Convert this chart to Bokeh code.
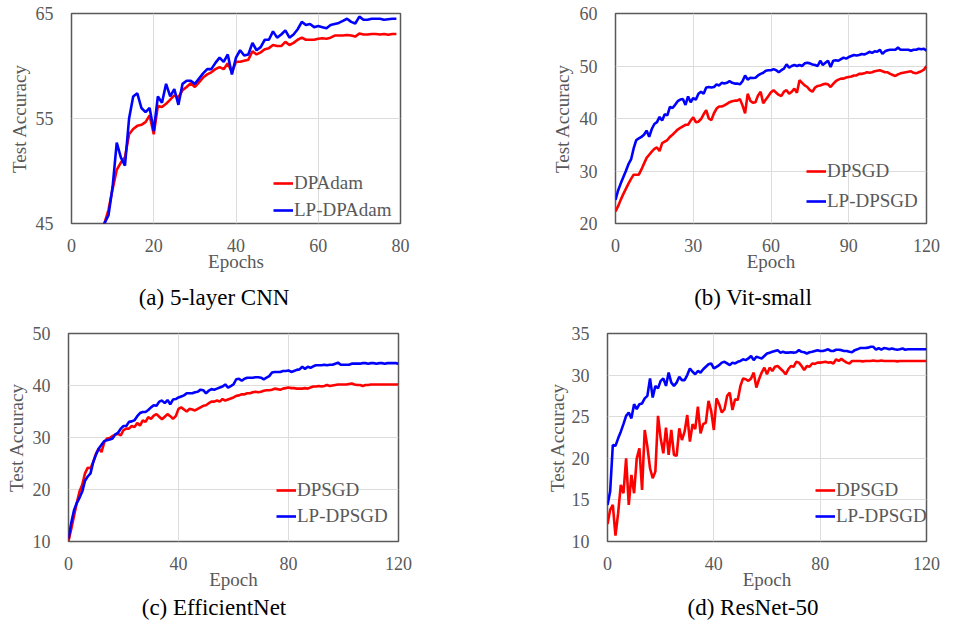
from bokeh.plotting import figure
from bokeh.models import Range1d, FixedTicker, Legend, Div
from bokeh.layouts import column, row
from bokeh.embed import file_html
from bokeh.resources import INLINE

# ---------------- data ----------------
# (a) 5-layer CNN, epochs 0..79
cnn_epochs = list(range(80))
cnn_dpadam = [30, 33, 36, 38, 40, 41.5, 42.8, 43.9, 45.0, 46.3,
              48.3, 50.1, 50.8, 51.3, 53.5, 54.0, 54.3, 54.4, 54.65, 55.3,
              53.5, 56.2, 56.1, 56.4, 56.8, 57.2, 57.0, 57.7, 58.0, 58.35,
              58.0, 58.45, 58.9, 59.2, 59.4, 59.7, 59.9, 59.7, 60.25, 59.4,
              60.4, 60.4, 60.5, 60.6, 61.4, 61.1, 61.3, 61.6, 61.7, 62.0,
              61.9, 61.9, 62.3, 62.0, 62.2, 62.5, 62.7, 62.5, 62.5, 62.5,
              62.6, 62.65, 62.6, 62.7, 62.9, 62.9, 62.9, 62.95, 62.9, 62.8,
              63.1, 63.0, 63.0, 63.05, 63.05, 63.0, 63.05, 62.98, 63.05, 63.05]
cnn_lp_dpadam = [30, 33, 36, 38, 40, 41.5, 42.8, 43.9, 45.0, 45.8,
                 48.5, 52.7, 51.3, 50.5, 55.0, 57.1, 57.4, 56.0, 55.6, 56.0,
                 53.8, 57.1, 56.5, 58.3, 57.1, 57.8, 56.3, 58.3, 58.6, 58.6,
                 58.3, 58.8, 59.3, 59.7, 59.7, 60.3, 60.8, 60.4, 61.1, 59.2,
                 60.8, 61.5, 61.0, 61.1, 62.2, 61.5, 61.8, 62.5, 62.5, 63.3,
                 62.7, 63.0, 63.4, 62.7, 63.0, 63.5, 64.2, 63.9, 64.0, 63.7,
                 63.8, 63.7, 63.6, 63.9, 64.0, 64.1, 64.3, 64.5, 64.2, 64.05,
                 64.7, 64.4, 64.4, 64.5, 64.5, 64.5, 64.4, 64.45, 64.5, 64.5]

# (b) Vit-small, epochs 0..120
vit_epochs = list(range(121))
vit_dpsgd = [22.3, 23.3, 24.5, 25.6, 26.6, 27.6, 28.5, 29.3, 29.3, 29.3,
             30.3, 31.4, 32.5, 33.1, 33.7, 34.2, 34.5, 33.8, 35.3, 35.6,
             35.9, 36.5, 36.9, 37.4, 37.9, 38.2, 38.5, 38.8, 38.8, 39.6,
             40.2, 39.3, 39.4, 39.9, 40.8, 41.6, 40.0, 39.7, 41.0, 41.9,
             42.3, 42.3, 42.5, 42.8, 43.1, 43.3, 43.4, 43.4, 43.7, 42.5,
             41.0, 44.7, 43.4, 43.0, 43.1, 44.4, 45.1, 42.9, 43.6, 44.3,
             45.0, 45.4, 44.9, 44.5, 44.3, 45.1, 45.4, 44.7, 45.1, 45.7,
             44.9, 47.3, 46.8, 46.3, 46.0, 45.4, 45.1, 45.9, 46.2, 46.3,
             46.5, 46.6, 46.5, 46.0, 46.6, 47.1, 47.4, 47.6, 47.6, 47.8,
             47.9, 48.0, 48.2, 48.2, 48.5, 48.5, 48.6, 48.8, 48.7, 48.8,
             49.0, 49.1, 49.2, 49.0, 48.8, 48.8, 48.5, 48.3, 48.1, 48.4,
             48.6, 48.7, 48.8, 48.9, 49.0, 48.7, 48.6, 48.8, 49.0, 49.3,
             50.0]
vit_lp_dpsgd = [24.5, 26.3, 27.6, 28.8, 30.0, 31.3, 32.2, 34.3, 35.9, 36.2,
                36.5, 36.9, 37.7, 36.5, 38.0, 38.95, 39.3, 40.3, 39.6, 40.8,
                40.6, 42.2, 42.0, 42.6, 43.3, 43.6, 43.7, 42.6, 44.2, 43.1,
                43.9, 43.6, 44.7, 45.1, 44.7, 45.9, 46.0, 45.9, 46.0, 46.5,
                46.3, 46.8, 46.65, 46.8, 47.1, 46.8, 46.65, 46.65, 46.5, 47.1,
                48.2, 47.4, 47.75, 47.7, 47.75, 48.2, 48.5, 48.7, 49.1, 49.2,
                49.2, 49.4, 49.2, 48.8, 49.2, 49.5, 50.3, 49.7, 50.0, 50.2,
                50.0, 50.2, 50.0, 50.5, 50.6, 50.5, 50.3, 50.2, 50.0, 51.0,
                50.2, 50.6, 51.0, 49.8, 51.0, 51.1, 51.0, 51.3, 51.6, 51.4,
                51.7, 51.9, 52.1, 52.0, 52.1, 52.3, 52.2, 52.4, 52.7, 52.5,
                52.8, 52.7, 53.1, 52.3, 52.8, 53.0, 53.1, 53.1, 53.1, 53.5,
                53.1, 53.1, 53.1, 53.1, 52.9, 53.1, 53.1, 53.3, 53.2, 53.3,
                52.9]

# (c) EfficientNet, epochs 0..120
eff_epochs = list(range(121))
eff_dpsgd = [10.1, 12.4, 14.9, 17.4, 19.6, 20.9, 23.1, 24.2, 24.1, 25.3,
             26.9, 27.9, 27.2, 29.1, 29.8, 29.9, 30.3, 30.5, 30.7, 30.4,
             31.4, 31.7, 31.7, 32.2, 32.0, 32.8, 32.3, 33.3, 33.0, 33.9,
             33.6, 34.2, 34.5, 34.0, 33.5, 34.0, 34.5, 34.1, 33.6, 34.1,
             35.5, 35.8, 35.4, 35.0, 35.5, 35.4, 35.2, 35.5, 35.8, 36.1,
             36.2, 36.6, 36.9, 36.9, 37.1, 36.9, 37.4, 37.1, 37.3, 37.5,
             37.7, 38.0, 38.1, 38.3, 38.3, 38.5, 38.5, 38.7, 38.8, 38.7,
             38.8, 39.0, 39.1, 39.1, 39.2, 39.4, 39.3, 39.2, 39.4, 39.5,
             39.6, 39.5, 39.5, 39.4, 39.4, 39.4, 39.5, 39.4, 39.6, 39.8,
             39.8, 39.9, 39.8, 39.9, 40.1, 39.9, 40.0, 40.1, 40.2, 40.2,
             40.2, 40.2, 40.3, 40.4, 40.2, 40.1, 40.1, 39.9, 40.1, 40.1,
             40.2, 40.2, 40.2, 40.2, 40.2, 40.2, 40.2, 40.2, 40.2, 40.2,
             40.2]
eff_lp_dpsgd = [10.5, 13.6, 16.0, 17.4, 18.4, 19.6, 21.7, 22.5, 23.1, 25.3,
                26.7, 27.9, 28.6, 29.3, 29.5, 29.6, 29.8, 30.6, 30.9, 31.7,
                32.2, 32.2, 33.0, 33.1, 33.3, 34.1, 34.7, 34.9, 34.9, 35.3,
                35.8, 36.2, 36.1, 36.9, 37.1, 36.6, 37.2, 36.4, 37.3, 37.4,
                37.7, 37.9, 38.1, 38.5, 38.5, 38.5, 38.7, 38.8, 39.2, 39.1,
                38.5, 39.0, 39.3, 39.2, 39.4, 39.6, 39.8, 40.2, 39.6, 39.9,
                40.2, 41.2, 41.3, 40.9, 41.3, 41.5, 41.5, 41.5, 41.6, 41.6,
                41.5, 41.2, 41.5, 41.8, 42.5, 42.6, 42.6, 42.6, 42.8, 42.8,
                42.9, 42.6, 42.8, 43.0, 43.1, 43.6, 43.2, 43.6, 43.4, 43.7,
                43.9, 43.9, 43.9, 44.0, 43.9, 44.0, 44.0, 44.2, 44.4, 44.0,
                44.0, 44.0, 44.0, 44.2, 44.2, 44.2, 44.2, 44.3, 44.3, 44.2,
                44.3, 44.3, 44.2, 44.3, 44.3, 44.2, 44.3, 44.3, 44.3, 44.3,
                44.2]

# (d) ResNet-50, epochs 0..120
res_epochs = list(range(121))
res_dpsgd = [12.1, 13.8, 14.4, 10.7, 13.4, 16.8, 15.8, 20.0, 14.4, 18.0,
             15.8, 20.0, 21.2, 16.2, 23.4, 21.4, 18.8, 17.6, 18.4, 25.1,
             22.4, 20.6, 23.7, 20.4, 23.4, 20.4, 20.3, 23.6, 22.2, 23.2,
             25.2, 22.0, 24.1, 23.5, 26.2, 23.0, 24.1, 24.3, 26.9, 25.7,
             23.4, 27.2, 26.5, 25.5, 25.9, 27.5, 27.9, 25.8, 27.1, 27.0,
             28.7, 29.6, 29.5, 29.3, 29.6, 30.3, 28.5, 29.5, 30.3, 30.9,
             30.1, 30.9, 30.5, 31.0, 31.1, 30.8, 30.5, 30.1, 30.7, 31.1,
             31.0, 31.6, 31.5, 31.1, 30.6, 31.1, 31.0, 31.4, 31.35, 31.5,
             31.5, 31.55, 31.6, 31.5, 31.55, 31.4, 31.9, 31.7, 31.95, 31.7,
             31.5, 31.4, 31.7, 31.7, 31.7, 31.7, 31.65, 31.7, 31.7, 31.7,
             31.75, 31.7, 31.7, 31.75, 31.7, 31.7, 31.7, 31.7, 31.7, 31.65,
             31.7, 31.7, 31.7, 31.7, 31.7, 31.7, 31.7, 31.7, 31.7, 31.7,
             31.7]
res_lp_dpsgd = [14.4, 16.0, 21.6, 21.5, 22.4, 23.2, 24.1, 25.1, 25.5, 24.8,
                26.5, 25.9, 26.5, 26.6, 27.2, 27.5, 29.6, 27.3, 28.7, 28.4,
                29.3, 29.6, 28.7, 30.3, 29.1, 28.7, 29.1, 29.8, 29.4, 29.4,
                30.0, 30.8, 30.4, 30.1, 30.5, 30.3, 30.7, 31.0, 31.3, 31.4,
                30.8, 31.0, 31.2, 31.5, 31.6, 31.4, 31.2, 31.5, 31.4, 31.6,
                31.7, 31.9, 31.8, 32.0, 32.3, 31.8, 32.2, 32.1, 32.0, 32.3,
                32.6, 32.7, 32.8, 32.9, 33.0, 32.7, 32.8, 32.7, 32.7, 32.75,
                32.7, 32.75, 33.0, 32.8, 32.75, 32.6, 32.75, 32.8, 32.9, 33.0,
                32.9, 32.9, 33.0, 33.1, 32.9, 32.9, 33.05, 33.05, 33.0, 32.9,
                32.9, 32.8, 32.75, 33.0, 33.1, 33.25, 33.25, 33.25, 33.3, 33.4,
                33.4, 33.05, 33.25, 33.05, 33.25, 33.2, 33.1, 33.2, 33.1, 33.05,
                33.1, 33.2, 33.05, 33.1, 33.1, 33.1, 33.1, 33.1, 33.1, 33.1,
                33.1]

cnn_xticks = [0, 20, 40, 60, 80]
cnn_yticks = [45, 55, 65]
vit_xticks = [0, 30, 60, 90, 120]
vit_yticks = [20, 30, 40, 50, 60]
eff_xticks = [0, 40, 80, 120]
eff_yticks = [10, 20, 30, 40, 50]
res_xticks = [0, 40, 80, 120]
res_yticks = [10, 15, 20, 25, 30, 35]

captions = ["(a) 5-layer CNN", "(b) Vit-small", "(c) EfficientNet", "(d) ResNet-50"]

# ---------------- styling ----------------
FONT = "Liberation Serif"
GREY = "#595959"
RED = "#ff0000"
BLUE = "#0000ff"


def panel(x, red, blue, names, xr, yr, xticks, yticks, xlabel,
          height, borders, ylab_standoff, leg_loc, leg_spacing):
    left, right, top, bottom = borders
    p = figure(width=470, height=height, output_backend="svg", toolbar_location=None,
               x_range=Range1d(*xr), y_range=Range1d(*yr),
               min_border_left=left, min_border_right=right,
               min_border_top=top, min_border_bottom=bottom)
    p.background_fill_color = "white"
    p.border_fill_color = "white"
    p.outline_line_color = "#5a5a5a"
    p.outline_line_width = 1.5

    p.xaxis.ticker = FixedTicker(ticks=xticks)
    p.yaxis.ticker = FixedTicker(ticks=yticks)
    p.xgrid.ticker = FixedTicker(ticks=xticks)
    p.ygrid.ticker = FixedTicker(ticks=yticks)
    for g in (p.xgrid, p.ygrid):
        g.grid_line_color = "#dcdcdc"
        g.grid_line_width = 1

    for ax in (p.xaxis, p.yaxis):
        ax.axis_line_color = None
        ax.major_tick_line_color = None
        ax.minor_tick_line_color = None
        ax.major_tick_out = 0
        ax.major_tick_in = 0
        ax.minor_tick_out = 0
        ax.major_label_text_font = FONT
        ax.major_label_text_font_size = "18px"
        ax.major_label_text_color = GREY
        ax.axis_label_text_font = FONT
        ax.axis_label_text_font_size = "19px"
        ax.axis_label_text_font_style = "normal"
        ax.axis_label_text_color = GREY

    p.xaxis.axis_label = xlabel
    p.xaxis.major_label_standoff = 15
    p.xaxis.axis_label_standoff = -4
    p.yaxis.axis_label = "Test Accuracy"
    p.yaxis.major_label_standoff = 18
    p.yaxis.axis_label_standoff = ylab_standoff

    r1 = p.line(x, red, line_color=RED, line_width=2.6)
    r2 = p.line(x, blue, line_color=BLUE, line_width=2.6)

    leg = Legend(items=[(names[0], [r1]), (names[1], [r2])], location=leg_loc,
                 orientation="vertical", padding=0, margin=0, spacing=leg_spacing,
                 glyph_width=20, glyph_height=20, label_standoff=1,
                 label_text_font=FONT, label_text_font_size="19px",
                 label_text_color=GREY, border_line_alpha=0,
                 background_fill_alpha=0)
    p.add_layout(leg)
    return p


def caption_div(text, center):
    w = 220
    html = ('<div style="margin-left:%dpx;width:%dpx;text-align:center;'
            'font-family:\'Liberation Serif\';font-size:23px;line-height:24px;'
            'color:#000;white-space:nowrap;">%s</div>') % (center - w // 2, w, text)
    return Div(text=html, width=470, height=24, margin=0)


pa = panel(cnn_epochs, cnn_dpadam, cnn_lp_dpadam, ["DPAdam", "LP-DPAdam"],
           (0, 80), (45, 65), cnn_xticks, cnn_yticks, "Epochs",
           286, (71, 70, 13, 63), 3, (202, 2), 5)
pb = panel(vit_epochs, vit_dpsgd, vit_lp_dpsgd, ["DPSGD", "LP-DPSGD"],
           (0, 120), (20, 60), vit_xticks, vit_yticks, "Epoch",
           286, (145, 14, 8, 62), 4, (191, 11), 8)
pc = panel(eff_epochs, eff_dpsgd, eff_lp_dpsgd, ["DPSGD", "LP-DPSGD"],
           (0, 120), (10, 50), eff_xticks, eff_yticks, "Epoch",
           286, (68, 72, 23, 55), 3, (208, 14), 4)
pd_ = panel(res_epochs, res_dpsgd, res_lp_dpsgd, ["DPSGD", "LP-DPSGD"],
            (0, 120), (10, 35), res_xticks, res_yticks, "Epoch",
            286, (137, 14, 23, 55), 1, (208, 14), 4)

layout = column(
    row(pa, pb),
    row(caption_div(captions[0], 214), caption_div(captions[1], 283)),
    row(pc, pd_),
    row(caption_div(captions[2], 214), caption_div(captions[3], 283)),
)
open("out.html", "w").write(file_html(layout, INLINE))
